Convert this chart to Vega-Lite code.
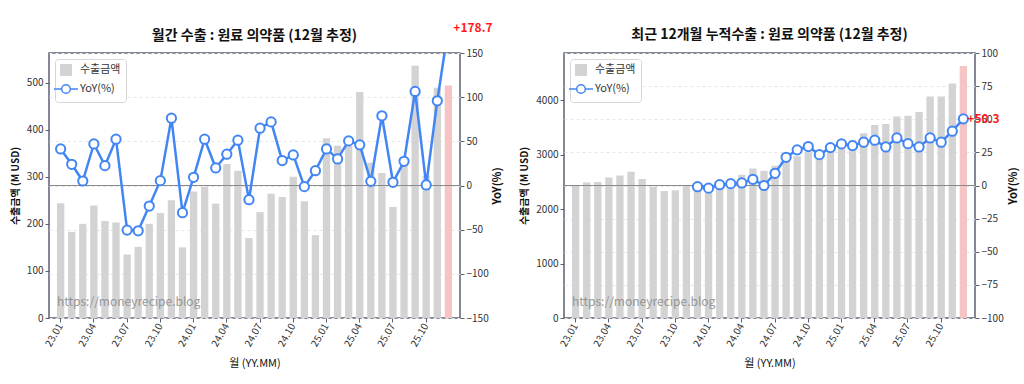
{
  "$schema": "https://vega.github.io/schema/vega-lite/v6.json",
  "padding": {"left": 9, "top": 20, "right": 5, "bottom": 5},
  "background": "white",
  "bounds": "flush",
  "spacing": 104,
  "datasets": {
    "monthly": [
      {"m": "23.01", "v": 244, "y": 41.4, "k": "수출금액"},
      {"m": "23.02", "v": 183, "y": 24.0, "k": "수출금액"},
      {"m": "23.03", "v": 200, "y": 5.1, "k": "수출금액"},
      {"m": "23.04", "v": 239, "y": 47.0, "k": "수출금액"},
      {"m": "23.05", "v": 206, "y": 22.5, "k": "수출금액"},
      {"m": "23.06", "v": 203, "y": 52.4, "k": "수출금액"},
      {"m": "23.07", "v": 135, "y": -50.5, "k": "수출금액"},
      {"m": "23.08", "v": 151, "y": -51.3, "k": "수출금액"},
      {"m": "23.09", "v": 200, "y": -23.3, "k": "수출금액"},
      {"m": "23.10", "v": 223, "y": 5.5, "k": "수출금액"},
      {"m": "23.11", "v": 250, "y": 76.2, "k": "수출금액"},
      {"m": "23.12", "v": 150, "y": -30.8, "k": "수출금액"},
      {"m": "24.01", "v": 269, "y": 9.3, "k": "수출금액"},
      {"m": "24.02", "v": 279, "y": 52.4, "k": "수출금액"},
      {"m": "24.03", "v": 243, "y": 19.9, "k": "수출금액"},
      {"m": "24.04", "v": 327, "y": 35.4, "k": "수출금액"},
      {"m": "24.05", "v": 313, "y": 51.3, "k": "수출금액"},
      {"m": "24.06", "v": 170, "y": -16.1, "k": "수출금액"},
      {"m": "24.07", "v": 225, "y": 64.9, "k": "수출금액"},
      {"m": "24.08", "v": 264, "y": 72.0, "k": "수출금액"},
      {"m": "24.09", "v": 257, "y": 28.2, "k": "수출금액"},
      {"m": "24.10", "v": 300, "y": 34.6, "k": "수출금액"},
      {"m": "24.11", "v": 248, "y": -1.3, "k": "수출금액"},
      {"m": "24.12", "v": 176, "y": 16.8, "k": "수출금액"},
      {"m": "25.01", "v": 382, "y": 41.4, "k": "수출금액"},
      {"m": "25.02", "v": 366, "y": 30.1, "k": "수출금액"},
      {"m": "25.03", "v": 366, "y": 50.5, "k": "수출금액"},
      {"m": "25.04", "v": 480, "y": 46.0, "k": "수출금액"},
      {"m": "25.05", "v": 330, "y": 4.7, "k": "수출금액"},
      {"m": "25.06", "v": 308, "y": 78.9, "k": "수출금액"},
      {"m": "25.07", "v": 236, "y": 3.6, "k": "수출금액"},
      {"m": "25.08", "v": 336, "y": 27.4, "k": "수출금액"},
      {"m": "25.09", "v": 536, "y": 106.5, "k": "수출금액"},
      {"m": "25.10", "v": 302, "y": 0.6, "k": "수출금액"},
      {"m": "25.11", "v": 489, "y": 95.9, "k": "수출금액"},
      {"m": "25.12", "v": 494, "y": 178.7, "k": "추정", "lab": "+178.7"}
    ],
    "cumul": [
      {"m": "23.01", "v": 2445, "y": null, "k": "수출금액"},
      {"m": "23.02", "v": 2488, "y": null, "k": "수출금액"},
      {"m": "23.03", "v": 2500, "y": null, "k": "수출금액"},
      {"m": "23.04", "v": 2580, "y": null, "k": "수출금액"},
      {"m": "23.05", "v": 2618, "y": null, "k": "수출금액"},
      {"m": "23.06", "v": 2686, "y": null, "k": "수출금액"},
      {"m": "23.07", "v": 2556, "y": null, "k": "수출금액"},
      {"m": "23.08", "v": 2410, "y": null, "k": "수출금액"},
      {"m": "23.09", "v": 2333, "y": null, "k": "수출금액"},
      {"m": "23.10", "v": 2347, "y": null, "k": "수출금액"},
      {"m": "23.11", "v": 2445, "y": null, "k": "수출금액"},
      {"m": "23.12", "v": 2384, "y": -0.9, "k": "수출금액"},
      {"m": "24.01", "v": 2409, "y": -2.0, "k": "수출금액"},
      {"m": "24.02", "v": 2506, "y": 0.6, "k": "수출금액"},
      {"m": "24.03", "v": 2549, "y": 1.4, "k": "수출금액"},
      {"m": "24.04", "v": 2632, "y": 1.9, "k": "수출금액"},
      {"m": "24.05", "v": 2746, "y": 4.7, "k": "수출금액"},
      {"m": "24.06", "v": 2708, "y": 0.0, "k": "수출금액"},
      {"m": "24.07", "v": 2800, "y": 9.2, "k": "수출금액"},
      {"m": "24.08", "v": 2914, "y": 21.3, "k": "수출금액"},
      {"m": "24.09", "v": 2971, "y": 26.9, "k": "수출금액"},
      {"m": "24.10", "v": 3048, "y": 29.4, "k": "수출금액"},
      {"m": "24.11", "v": 3046, "y": 23.3, "k": "수출금액"},
      {"m": "24.12", "v": 3072, "y": 28.6, "k": "수출금액"},
      {"m": "25.01", "v": 3185, "y": 31.4, "k": "수출금액"},
      {"m": "25.02", "v": 3271, "y": 30.1, "k": "수출금액"},
      {"m": "25.03", "v": 3393, "y": 32.7, "k": "수출금액"},
      {"m": "25.04", "v": 3546, "y": 34.2, "k": "수출금액"},
      {"m": "25.05", "v": 3564, "y": 29.1, "k": "수출금액"},
      {"m": "25.06", "v": 3704, "y": 35.9, "k": "수출금액"},
      {"m": "25.07", "v": 3715, "y": 31.6, "k": "수출금액"},
      {"m": "25.08", "v": 3785, "y": 29.1, "k": "수출금액"},
      {"m": "25.09", "v": 4070, "y": 35.9, "k": "수출금액"},
      {"m": "25.10", "v": 4072, "y": 32.7, "k": "수출금액"},
      {"m": "25.11", "v": 4310, "y": 41.0, "k": "수출금액"},
      {"m": "25.12", "v": 4630, "y": 50.3, "k": "추정", "lab": "+50.3"}
    ]
  },
  "hconcat": [
    {
      "width": 411,
      "height": 265,
      "data": {"name": "monthly"},
      "title": {"text": "월간 수출 : 원료 의약품 (12월 추정)", "offset": -21},
      "resolve": {"scale": {"y": "independent"}},
      "layer": [
        {
          "layer": [
            {
              "mark": {"type": "bar"},
              "encoding": {
                "x": {"field": "m", "type": "ordinal", "title": "월 (YY.MM)", "scale": {"paddingInner": 0.34, "paddingOuter": 0.72},
                  "axis": {"values": ["23.01","23.04","23.07","23.10","24.01","24.04","24.07","24.10","25.01","25.04","25.07","25.10"], "labelAngle": -60, "titleFontWeight": "normal", "titlePadding": 9}},
                "y": {"field": "v", "type": "quantitative", "title": "수출금액 (M USD)", "scale": {"domain": [0, 563], "nice": false},
                  "axis": {"values": [0, 100, 200, 300, 400, 500], "format": "d", "titleFontSize": 10, "titlePadding": 6}},
                "color": {"field": "k", "type": "nominal",
                  "scale": {"domain": ["수출금액", "YoY(%)", "추정"], "range": ["#d3d3d3", "#4285f4", "#f5c4c4"]},
                  "legend": {
                    "orient": "top-left", "offset": 6, "title": null, "values": ["수출금액", "YoY(%)"],
                    "labelFontSize": 11, "labelColor": "#333333", "strokeColor": "#d6d6d6", "fillColor": "white",
                    "cornerRadius": 3, "padding": 5, "rowPadding": 2, "labelOffset": 8, "symbolSize": 576, "symbolStrokeWidth": 1.5,
                    "encode": {"symbols": {"update": {
                      "shape": {"signal": "datum.value === 'YoY(%)' ? 'M-1,0H-0.36M0.36,0H1M-0.36,0A0.36,0.36 0 1,1 0.36,0A0.36,0.36 0 1,1 -0.36,0Z' : 'square'"},
                      "size": {"signal": "datum.value === 'YoY(%)' ? 576 : 110"},
                      "fill": {"signal": "datum.value === 'YoY(%)' ? '#ffffff' : '#d3d3d3'"},
                      "fillOpacity": {"signal": "datum.value === 'YoY(%)' ? 0 : 1"},
                      "stroke": {"signal": "datum.value === 'YoY(%)' ? '#4285f4' : '#d3d3d3'"},
                      "strokeWidth": {"value": 1.5},
                      "opacity": {"value": 1}
                    }}}
                  }}
              }
            },
            {
              "data": {"values": [{"t": "https://moneyrecipe.blog"}]},
              "mark": {"type": "text", "align": "left", "baseline": "middle", "fontSize": 12, "color": "#8a8a8a", "opacity": 0.85},
              "encoding": {
                "x": {"datum": "23.01", "type": "ordinal", "bandPosition": 0, "title": "월 (YY.MM)"},
                "y": {"datum": 34, "type": "quantitative", "title": "수출금액 (M USD)"},
                "text": {"field": "t"}
              }
            }
          ]
        },
        {
          "layer": [
            {
              "mark": {"type": "rule", "color": "#8a8a8a", "strokeWidth": 1},
              "encoding": {"y": {"datum": 0, "type": "quantitative", "title": "YoY(%)", "scale": {"domain": [-150, 150], "nice": false},
                  "axis": {"orient": "right", "values": [-150, -100, -50, 0, 50, 100, 150], "labelOverlap": false, "grid": true, "gridDash": [3, 3], "gridColor": "#e6e6e6", "titleAngle": 270, "titleFontSize": 11, "titlePadding": 14}}}
            },
            {
              "mark": {"type": "line", "clip": true, "strokeWidth": 2.5, "color": "#4285f4"},
              "encoding": {
                "x": {"field": "m", "type": "ordinal", "title": "월 (YY.MM)"},
                "y": {"field": "y", "type": "quantitative", "title": "YoY(%)", "scale": {"domain": [-150, 150], "nice": false},
                  "axis": {"orient": "right", "values": [-150, -100, -50, 0, 50, 100, 150], "labelOverlap": false, "grid": true, "gridDash": [3, 3], "gridColor": "#e6e6e6", "titleAngle": 270, "titleFontSize": 11, "titlePadding": 14}}
              }
            },
            {
              "mark": {"type": "point", "clip": true, "filled": true, "fill": "white", "stroke": "#4285f4", "strokeWidth": 2, "size": 85, "opacity": 1},
              "encoding": {
                "x": {"field": "m", "type": "ordinal", "title": "월 (YY.MM)"},
                "y": {"field": "y", "type": "quantitative", "title": "YoY(%)", "scale": {"domain": [-150, 150], "nice": false},
                  "axis": {"orient": "right", "values": [-150, -100, -50, 0, 50, 100, 150], "labelOverlap": false, "grid": true, "gridDash": [3, 3], "gridColor": "#e6e6e6", "titleAngle": 270, "titleFontSize": 11, "titlePadding": 14}}
              }
            },
            {
              "transform": [{"filter": "isValid(datum.lab)"}],
              "mark": {"type": "text", "align": "left", "baseline": "middle", "dx": 5, "fontSize": 12, "fontWeight": "bold", "color": "#ff1a1a"},
              "encoding": {
                "x": {"field": "m", "type": "ordinal", "title": "월 (YY.MM)"},
                "y": {"field": "y", "type": "quantitative", "title": "YoY(%)", "scale": {"domain": [-150, 150], "nice": false},
                  "axis": {"orient": "right", "values": [-150, -100, -50, 0, 50, 100, 150], "labelOverlap": false, "grid": true, "gridDash": [3, 3], "gridColor": "#e6e6e6", "titleAngle": 270, "titleFontSize": 11, "titlePadding": 14}},
                "text": {"field": "lab"}
              }
            }
          ]
        }
      ]
    },
    {
      "width": 411,
      "height": 265,
      "data": {"name": "cumul"},
      "title": {"text": "최근 12개월 누적수출 : 원료 의약품 (12월 추정)", "offset": 6},
      "resolve": {"scale": {"y": "independent"}},
      "layer": [
        {
          "layer": [
            {
              "mark": {"type": "bar"},
              "encoding": {
                "x": {"field": "m", "type": "ordinal", "title": "월 (YY.MM)", "scale": {"paddingInner": 0.34, "paddingOuter": 0.72},
                  "axis": {"values": ["23.01","23.04","23.07","23.10","24.01","24.04","24.07","24.10","25.01","25.04","25.07","25.10"], "labelAngle": -60, "titleFontWeight": "normal", "titlePadding": 9}},
                "y": {"field": "v", "type": "quantitative", "title": "수출금액 (M USD)", "scale": {"domain": [0, 4870], "nice": false},
                  "axis": {"values": [0, 1000, 2000, 3000, 4000], "format": "d", "titleFontSize": 10, "titlePadding": 6}},
                "color": {"field": "k", "type": "nominal",
                  "scale": {"domain": ["수출금액", "YoY(%)", "추정"], "range": ["#d3d3d3", "#4285f4", "#f5c4c4"]},
                  "legend": {
                    "orient": "top-left", "offset": 6, "title": null, "values": ["수출금액", "YoY(%)"],
                    "labelFontSize": 11, "labelColor": "#333333", "strokeColor": "#d6d6d6", "fillColor": "white",
                    "cornerRadius": 3, "padding": 5, "rowPadding": 2, "labelOffset": 8, "symbolSize": 576, "symbolStrokeWidth": 1.5,
                    "encode": {"symbols": {"update": {
                      "shape": {"signal": "datum.value === 'YoY(%)' ? 'M-1,0H-0.36M0.36,0H1M-0.36,0A0.36,0.36 0 1,1 0.36,0A0.36,0.36 0 1,1 -0.36,0Z' : 'square'"},
                      "size": {"signal": "datum.value === 'YoY(%)' ? 576 : 110"},
                      "fill": {"signal": "datum.value === 'YoY(%)' ? '#ffffff' : '#d3d3d3'"},
                      "fillOpacity": {"signal": "datum.value === 'YoY(%)' ? 0 : 1"},
                      "stroke": {"signal": "datum.value === 'YoY(%)' ? '#4285f4' : '#d3d3d3'"},
                      "strokeWidth": {"value": 1.5},
                      "opacity": {"value": 1}
                    }}}
                  }}
              }
            },
            {
              "data": {"values": [{"t": "https://moneyrecipe.blog"}]},
              "mark": {"type": "text", "align": "left", "baseline": "middle", "fontSize": 12, "color": "#8a8a8a", "opacity": 0.85},
              "encoding": {
                "x": {"datum": "23.01", "type": "ordinal", "bandPosition": 0, "title": "월 (YY.MM)"},
                "y": {"datum": 290, "type": "quantitative", "title": "수출금액 (M USD)"},
                "text": {"field": "t"}
              }
            }
          ]
        },
        {
          "layer": [
            {
              "mark": {"type": "rule", "color": "#8a8a8a", "strokeWidth": 1},
              "encoding": {"y": {"datum": 0, "type": "quantitative", "title": "YoY(%)", "scale": {"domain": [-100, 100], "nice": false},
                  "axis": {"orient": "right", "values": [-100, -75, -50, -25, 0, 25, 50, 75, 100], "labelOverlap": false, "grid": true, "gridDash": [3, 3], "gridColor": "#e6e6e6", "titleAngle": 270, "titleFontSize": 11, "titlePadding": 15}}}
            },
            {
              "mark": {"type": "line", "clip": true, "strokeWidth": 2.5, "color": "#4285f4"},
              "encoding": {
                "x": {"field": "m", "type": "ordinal", "title": "월 (YY.MM)"},
                "y": {"field": "y", "type": "quantitative", "title": "YoY(%)", "scale": {"domain": [-100, 100], "nice": false},
                  "axis": {"orient": "right", "values": [-100, -75, -50, -25, 0, 25, 50, 75, 100], "labelOverlap": false, "grid": true, "gridDash": [3, 3], "gridColor": "#e6e6e6", "titleAngle": 270, "titleFontSize": 11, "titlePadding": 15}}
              }
            },
            {
              "mark": {"type": "point", "clip": true, "filled": true, "fill": "white", "stroke": "#4285f4", "strokeWidth": 2, "size": 85, "opacity": 1},
              "encoding": {
                "x": {"field": "m", "type": "ordinal", "title": "월 (YY.MM)"},
                "y": {"field": "y", "type": "quantitative", "title": "YoY(%)", "scale": {"domain": [-100, 100], "nice": false},
                  "axis": {"orient": "right", "values": [-100, -75, -50, -25, 0, 25, 50, 75, 100], "labelOverlap": false, "grid": true, "gridDash": [3, 3], "gridColor": "#e6e6e6", "titleAngle": 270, "titleFontSize": 11, "titlePadding": 15}}
              }
            },
            {
              "transform": [{"filter": "isValid(datum.lab)"}],
              "mark": {"type": "text", "align": "left", "baseline": "middle", "dx": 4, "fontSize": 12, "fontWeight": "bold", "color": "#ff1a1a"},
              "encoding": {
                "x": {"field": "m", "type": "ordinal", "title": "월 (YY.MM)"},
                "y": {"field": "y", "type": "quantitative", "title": "YoY(%)", "scale": {"domain": [-100, 100], "nice": false},
                  "axis": {"orient": "right", "values": [-100, -75, -50, -25, 0, 25, 50, 75, 100], "labelOverlap": false, "grid": true, "gridDash": [3, 3], "gridColor": "#e6e6e6", "titleAngle": 270, "titleFontSize": 11, "titlePadding": 15}},
                "text": {"field": "lab"}
              }
            }
          ]
        }
      ]
    }
  ],
  "resolve": {"scale": {"color": "independent"}, "legend": {"color": "independent"}},
  "config": {
    "font": "Noto Sans CJK KR",
    "view": {"stroke": "#5a6172", "strokeWidth": 1.5},
    "title": {"fontSize": 14, "fontWeight": "bold", "color": "#111111", "anchor": "middle"},
    "axis": {"labelFontSize": 10, "labelColor": "#333333", "titleFontSize": 11, "titleColor": "#111111", "titleFontWeight": "bold",
      "tickColor": "#5a6172", "tickSize": 4, "domain": false, "grid": false, "labelPadding": 2},
    "axisX": {"grid": false}
  }
}
